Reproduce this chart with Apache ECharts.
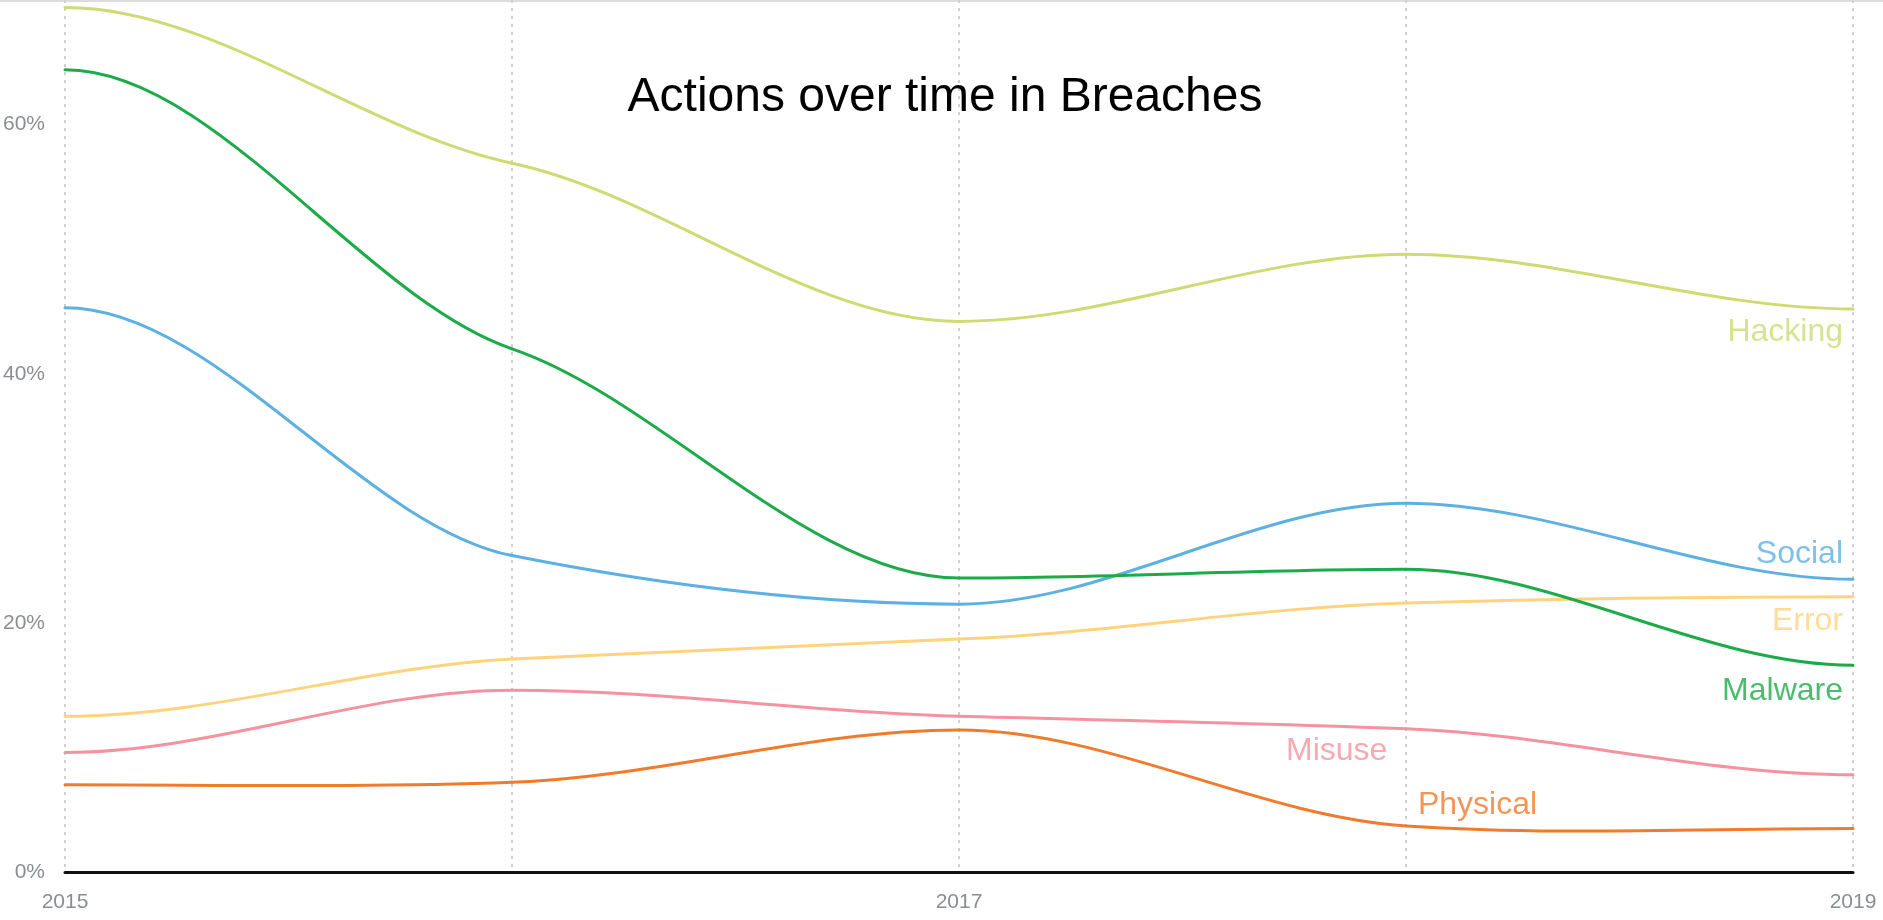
<!DOCTYPE html>
<html>
<head>
<meta charset="utf-8">
<script src="https://cdn.jsdelivr.net/npm/echarts@6/dist/echarts.min.js"></script>
<style>html,body{margin:0;padding:0;background:#fff;}#chart{width:1883px;height:920px;}</style>
</head>
<body>
<div id="chart"></div>
<script>
const years = [2015, 2016, 2017, 2018, 2019];
const yTicks = [0, 20, 40, 60];
const xTickLabels = [2015, 2017, 2019];
const titleText = 'Actions over time in Breaches';

const hacking  = [69.4, 56.9, 44.2, 49.6, 45.2];
const malware  = [64.4, 42.0, 23.6, 24.3, 16.6];
const social   = [45.3, 25.4, 21.5, 29.6, 23.5];
const error    = [12.5, 17.1, 18.7, 21.6, 22.1];
const misuse   = [9.6, 14.6, 12.5, 11.5, 7.8];
const physical = [7.0, 7.2, 11.4, 3.7, 3.5];

const seriesNames = ['Hacking', 'Malware', 'Social', 'Error', 'Misuse', 'Physical'];
const seriesData = [hacking, malware, social, error, misuse, physical];
const colors = ['#cddb72', '#1dab4a', '#5db1e2', '#ffd37e', '#f5929f', '#f07b2c'];
// label anchors in data space [year, value]
const labelAnchors = [[2019, 43.3], [2019, 14.5], [2019, 25.5], [2019, 20.1], [2017.845, 9.7], [2018.16, 5.35]];
const labelPlacement = ['left', 'left', 'left', 'left', 'inside', 'inside'];

const FONT = 'Liberation Sans, Arial, sans-serif';
const TENSION = 0.6;
const chart = echarts.init(document.getElementById('chart'));

// smooth curve drawn segment by segment through the axes' scales
function curveRenderer(color) {
  return function (params, api) {
    const i = params.dataIndexInside;
    const n = params.dataInsideLength;
    if (i >= n - 1) return null;
    const P = k => api.coord([api.value(0, k), api.value(1, k)]);
    const tangent = k => {
      if (k === 0) return [P(1)[0] - P(0)[0], 0];
      if (k === n - 1) return [P(n - 1)[0] - P(n - 2)[0], 0];
      const a = P(k - 1), c = P(k), b = P(k + 1);
      const dx = (b[0] - a[0]) / 2;
      if ((c[1] - a[1]) * (b[1] - c[1]) <= 0) return [dx, 0];
      return [dx, (b[1] - a[1]) / 2 * TENSION];
    };
    const p0 = P(i), p1 = P(i + 1);
    const t0 = tangent(i), t1 = tangent(i + 1);
    return {
      type: 'bezierCurve',
      shape: {
        x1: p0[0], y1: p0[1], x2: p1[0], y2: p1[1],
        cpx1: p0[0] + t0[0] / 3, cpy1: p0[1] + t0[1] / 3,
        cpx2: p1[0] - t1[0] / 3, cpy2: p1[1] - t1[1] / 3
      },
      style: { stroke: color, lineWidth: 3, fill: null, lineCap: 'round' }
    };
  };
}

const series = [];
seriesNames.forEach((name, i) => {
  series.push({
    name: name,
    type: 'custom',
    renderItem: curveRenderer(colors[i]),
    data: years.map((y, j) => [y, seriesData[i][j]]),
    encode: { x: 0, y: 1 },
    z: 10 - i,
    silent: true
  });
  series.push({
    name: name + ' label',
    type: 'scatter',
    symbolSize: 0.01,
    silent: true,
    data: [labelAnchors[i]],
    z: 20,
    label: {
      show: true,
      formatter: name,
      position: labelPlacement[i],
      distance: 10,
      color: colors[i],
      fontSize: 32,
      fontFamily: FONT
    }
  });
});

chart.setOption({
  animation: false,
  backgroundColor: '#ffffff',
  title: {
    text: titleText,
    left: 940,
    textAlign: 'center',
    top: 69,
    textStyle: { fontSize: 48, fontWeight: 'normal', color: '#000', fontFamily: FONT }
  },
  graphic: [{
    type: 'rect',
    left: 0, top: 0,
    shape: { width: 1883, height: 2 },
    style: { fill: '#dcdcdc' },
    silent: true
  }],
  grid: { left: 63, right: 30, top: 0, bottom: 48 },
  xAxis: {
    type: 'value',
    min: 2015,
    max: 2019,
    interval: 1,
    axisLine: { show: true, onZero: false, lineStyle: { color: '#111', width: 3 } },
    axisTick: { show: false },
    axisLabel: {
      color: '#8a8d92',
      fontSize: 21,
      margin: 20,
      fontFamily: FONT,
      formatter: v => xTickLabels.includes(v) ? String(v) : ''
    },
    splitLine: { show: true, lineStyle: { color: '#d0d0d0', type: [3, 5], width: 2 } }
  },
  yAxis: {
    type: 'value',
    min: 0,
    max: 70,
    interval: 20,
    axisLine: { show: false },
    axisTick: { show: false },
    splitLine: { show: false },
    axisLabel: {
      color: '#8a8d92',
      fontSize: 21,
      margin: 20,
      fontFamily: FONT,
      formatter: v => yTicks.includes(v) ? v + '%' : ''
    }
  },
  series: series
});
</script>
</body>
</html>
